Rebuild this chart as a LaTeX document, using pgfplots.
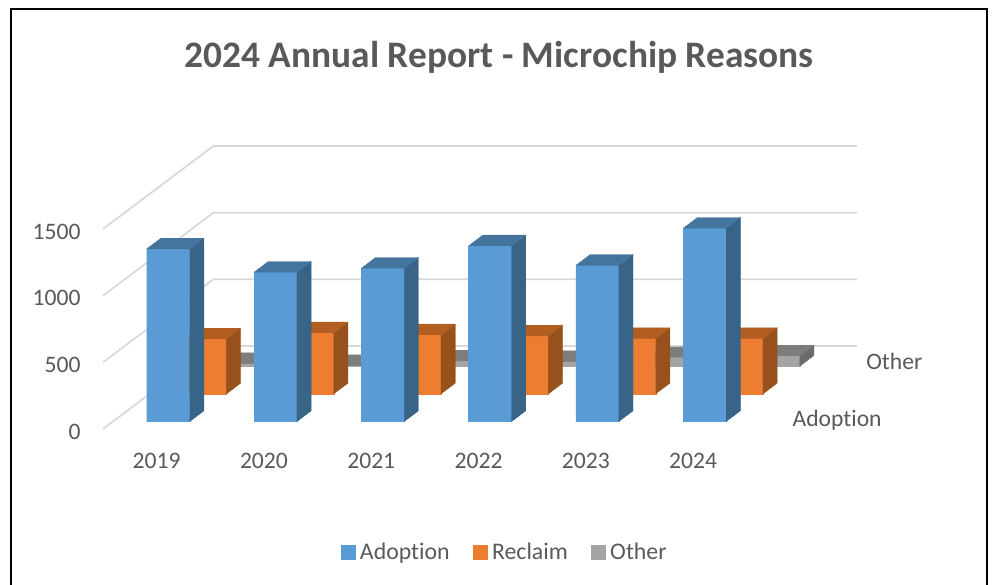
\documentclass[border=0pt]{standalone}
\usepackage{pgfplots}
\pgfplotsset{compat=1.18}
\usepackage{fontspec}
\setmainfont[Ligatures=NoCommon]{Carlito}
\definecolor{txt}{HTML}{595959}
\definecolor{gridc}{HTML}{D9D9D9}
\definecolor{aF}{HTML}{5B9BD5}\definecolor{aS}{HTML}{386488}\definecolor{aT}{HTML}{44759F}
\definecolor{rF}{HTML}{ED7D31}\definecolor{rS}{HTML}{96511C}\definecolor{rT}{HTML}{B15E20}
\definecolor{oF}{HTML}{A5A5A5}\definecolor{oS}{HTML}{6B6B6B}\definecolor{oT}{HTML}{7D7D7D}
\newcommand\threedbar[4]{%
  \pgfmathsetmacro\xa{#1+0.315}\pgfmathsetmacro\xb{#1+0.715}%
  \pgfmathsetmacro\ya{#2+0.27}\pgfmathsetmacro\yb{#2+0.656}%
  \edef\temp{%
  \noexpand\addplot3[forget plot,draw=#4F,line width=0.3pt,fill=#4F] coordinates {(\xa,\ya,0)(\xb,\ya,0)(\xb,\ya,#3)(\xa,\ya,#3)(\xa,\ya,0)};
  \noexpand\addplot3[forget plot,draw=#4S,line width=0.3pt,fill=#4S] coordinates {(\xb,\ya,0)(\xb,\yb,0)(\xb,\yb,#3)(\xb,\ya,#3)(\xb,\ya,0)};
  \noexpand\addplot3[forget plot,draw=#4T,line width=0.3pt,fill=#4T] coordinates {(\xa,\ya,#3)(\xb,\ya,#3)(\xb,\yb,#3)(\xa,\yb,#3)(\xa,\ya,#3)};
  }\temp}
\newcommand\gridlev[1]{\addplot3[forget plot,gridc,line width=1.7pt] coordinates {(0,0,#1)(0,3,#1)(6,3,#1)};}
\begin{document}
\begin{tikzpicture}[x=1pt,y=1pt]
\begin{axis}[
  x={(107.3pt,0pt)},y={(36.8pt,27.67pt)},z={(0pt,0.13333pt)},
  xmin=0,xmax=6,ymin=0,ymax=3,zmin=0,zmax=1500,
  clip=false,
  axis line style={draw=none},tick style={draw=none},
  xtick={0.5,1.5,2.5,3.5,4.5,5.5},xticklabels={2019,2020,2021,2022,2023,2024},
  ytick={0.39,2.5},yticklabels={\hspace*{4pt}Adoption,Other},
  ztick={0,500,1000,1500},
  /pgf/number format/assume math mode=true,
  /pgf/number format/1000 sep={},
  ticklabel style={font=\fontsize{23.6}{26}\selectfont,text=txt},
  xticklabel style={anchor=center,yshift=-32pt},
  yticklabel style={anchor=west,xshift=24pt,yshift=-2pt},
  zticklabel style={anchor=east,xshift=-19pt,yshift=-2.5pt},
  legend columns=3,
  legend style={draw=none,fill=none,font=\fontsize{23.8}{26}\selectfont,text=txt,at={(0.5,0)},anchor=north,xshift=24.5pt,yshift=-110pt,
    /tikz/every even column/.append style={column sep=21pt}},
  legend image code/.code={\fill[#1] (0pt,-7pt) rectangle (14pt,7pt);\path (17pt,0pt);},
]
\gridlev{0}\gridlev{500}\gridlev{1000}\gridlev{1500}
\threedbar{0}{2}{20}{o}\threedbar{1}{2}{5}{o}\threedbar{2}{2}{40}{o}\threedbar{3}{2}{35}{o}\threedbar{4}{2}{64}{o}\threedbar{5}{2}{77}{o}
\threedbar{0}{1}{412}{r}\threedbar{1}{1}{458}{r}\threedbar{2}{1}{443}{r}\threedbar{3}{1}{435}{r}\threedbar{4}{1}{415}{r}\threedbar{5}{1}{415}{r}
\threedbar{0}{0}{1295}{a}\threedbar{1}{0}{1120}{a}\threedbar{2}{0}{1150}{a}\threedbar{3}{0}{1318}{a}\threedbar{4}{0}{1172}{a}\threedbar{5}{0}{1450}{a}
\addlegendimage{aF}\addlegendentry{Adoption}
\addlegendimage{rF}\addlegendentry{Reclaim}
\addlegendimage{oF}\addlegendentry{Other}
\coordinate (O) at (axis cs:0,0,0);
\end{axis}
\path[use as bounding box] ([shift={(-103pt,-155pt)}]O) rectangle ([shift={(889pt,429pt)}]O);
\draw[line width=2.2pt,black] ([shift={(-92pt,-200pt)}]O) -- ([shift={(-92pt,420pt)}]O) -- ([shift={(884pt,420pt)}]O) -- ([shift={(884pt,-200pt)}]O);
\node[font=\fontsize{37.4}{40}\bfseries\selectfont,text=txt] at ([shift={(396pt,372pt)}]O) {2024 Annual Report - Microchip Reasons};
\end{tikzpicture}
\end{document}
